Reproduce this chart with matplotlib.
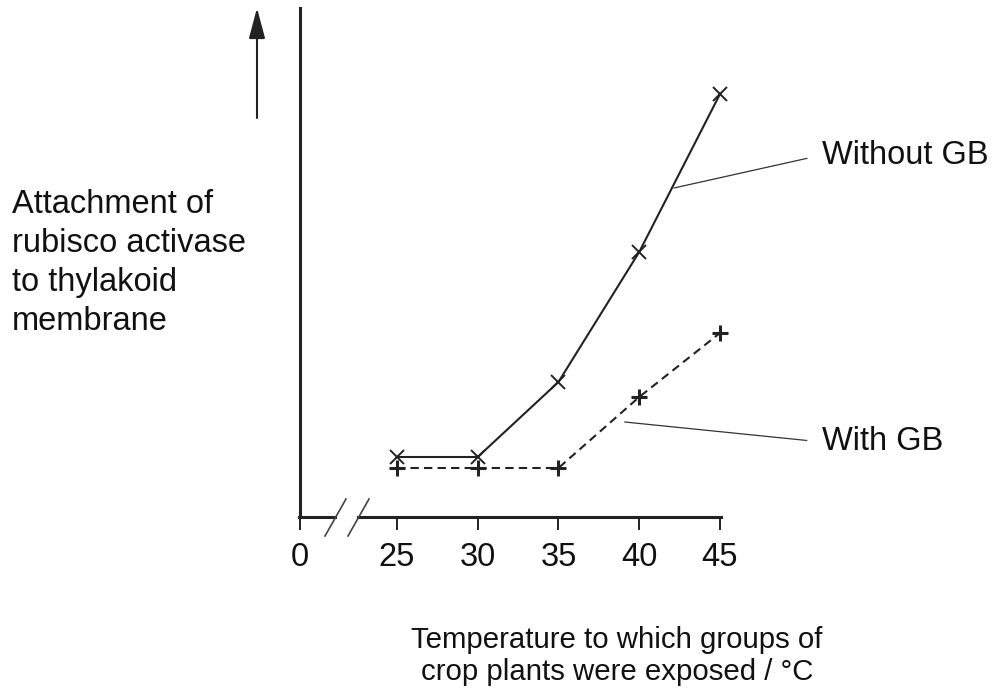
import matplotlib.pyplot as plt
from matplotlib.lines import Line2D

plt.rcParams['font.family'] = ['Liberation Sans', 'DejaVu Sans']

# data (arbitrary units)
temps = [25, 30, 35, 40, 45]
without_gb = [6.0, 6.0, 13.5, 26.5, 42.3]
with_gb = [4.9, 4.9, 4.9, 12.0, 18.4]
tick_pos = [19, 25, 30, 35, 40, 45]
tick_labels = ['0', '25', '30', '35', '40', '45']

W, H = 999, 688
fig = plt.figure(figsize=(W / 100, H / 100), dpi=100)


def fx(px):
    return px / W


def fy(py):
    return 1 - py / H


ax = fig.add_axes([fx(300), fy(517), (720 - 300) / W, (517 - 8) / H])
ax.set_xlim(19, 45)
ax.set_ylim(0, 50.9)

ax.plot(temps, without_gb, color='#222222', lw=1.5, marker='x', ms=10,
        mew=1.4, clip_on=False)
ax.plot(temps, with_gb, color='#222222', lw=1.5, ls=(0, (4, 2.5)), marker='+',
        ms=11, mew=2.2, clip_on=False)

for s in ['top', 'right', 'bottom']:
    ax.spines[s].set_visible(False)
ax.spines['left'].set_linewidth(2.2)
ax.spines['left'].set_color('#222222')
ax.set_yticks([])
ax.set_xticks(tick_pos)
ax.set_xticklabels(tick_labels, fontsize=23.5, color='#111111')
ax.tick_params(axis='x', length=9, width=1.4, color='#222222', pad=9)

# broken x axis
fig.add_artist(Line2D([fx(299), fx(335)], [fy(517), fy(517)], lw=2.2,
                      color='#222222', transform=fig.transFigure))
fig.add_artist(Line2D([fx(358), fx(721)], [fy(517), fy(517)], lw=2.2,
                      color='#222222', transform=fig.transFigure))
for x0 in [325, 348]:
    fig.add_artist(Line2D([fx(x0), fx(x0 + 21)], [fy(536), fy(499)], lw=1.2,
                          color='#444444', transform=fig.transFigure))

# arrow up the y axis
ax.annotate('', xy=(257, H - 8), xytext=(257, H - 118),
            xycoords='figure pixels', textcoords='figure pixels',
            arrowprops=dict(arrowstyle='-|>,head_length=0.75,head_width=0.2',
                            lw=1.5, color='#222222',
                            mutation_scale=25, shrinkA=0, shrinkB=0))

fig.text(fx(12), fy(263), 'Attachment of\nrubisco activase\nto thylakoid\nmembrane',
         fontsize=23.5, ha='left', va='center', linespacing=1.33, color='#111111')
fig.text(fx(617), fy(656), 'Temperature to which groups of\ncrop plants were exposed / °C',
         fontsize=21.2, ha='center', va='center', linespacing=1.15, color='#111111')

# labels with leader lines
ax.annotate('Without GB', xy=(42.15, 32.9), xycoords='data',
            xytext=(fx(822), fy(155)), textcoords='figure fraction',
            fontsize=23.5, ha='left', va='center', color='#111111',
            arrowprops=dict(arrowstyle='-', lw=0.9, color='#333333',
                            relpos=(0, 0.5), shrinkA=9, shrinkB=0))
ax.annotate('With GB', xy=(39.1, 9.5), xycoords='data',
            xytext=(fx(822), fy(442)), textcoords='figure fraction',
            fontsize=23.5, ha='left', va='center', color='#111111',
            arrowprops=dict(arrowstyle='-', lw=0.9, color='#333333',
                            relpos=(0, 0.5), shrinkA=9, shrinkB=0))

fig.savefig('out.png', dpi=100)
